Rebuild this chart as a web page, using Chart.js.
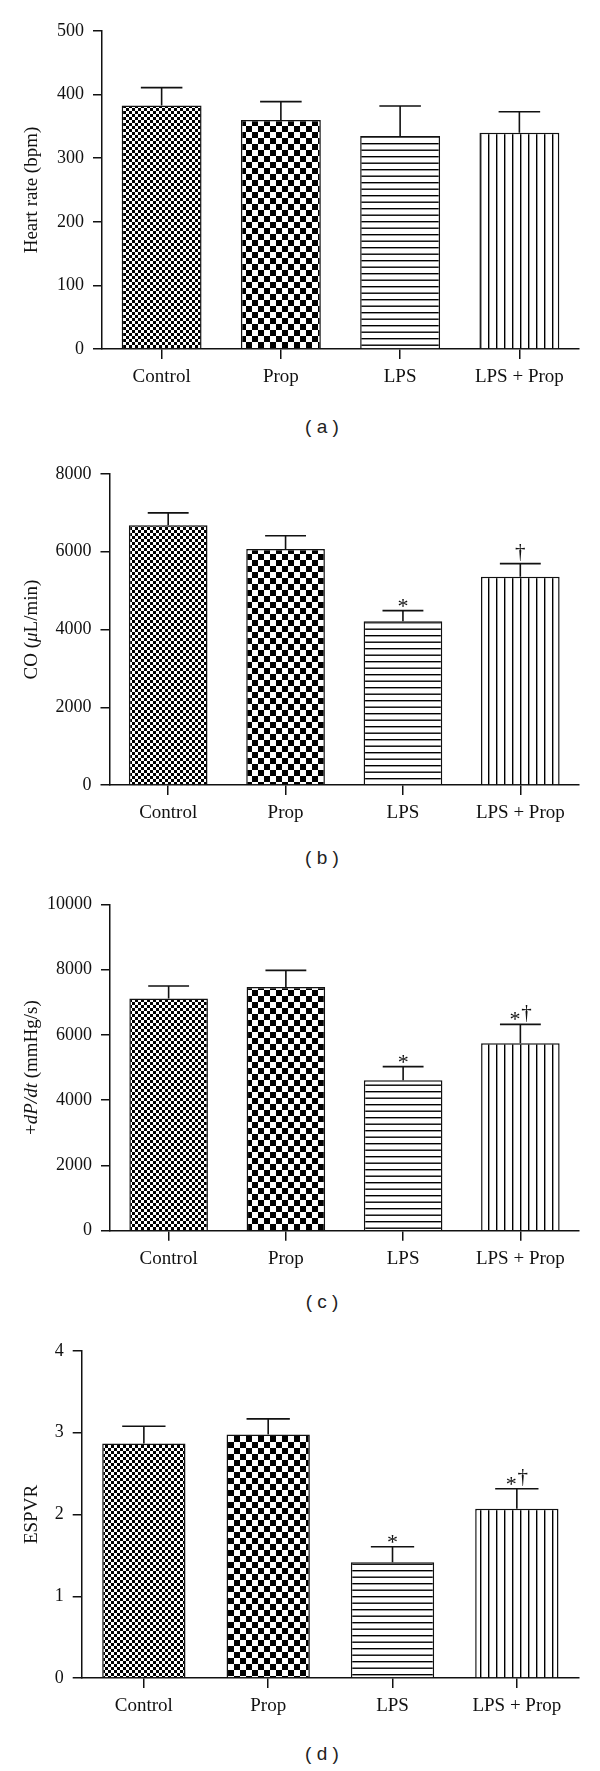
<!DOCTYPE html>
<html>
<head>
<meta charset="utf-8">
<script src="https://cdn.jsdelivr.net/npm/chart.js@4.4.1/dist/chart.umd.min.js"></script>
<style>
  body { margin: 0; background: #fff; }
  #page { position: relative; width: 600px; height: 1771px; overflow: hidden; }
  canvas { position: absolute; left: 0; }
  .cap { position: absolute; left: 0; width: 644px; text-align: center; font: 19px "Liberation Sans", Arial, sans-serif; color: #222; line-height: 24px; }
</style>
</head>
<body>
<div id="page">
  <canvas id="chartA" width="600" height="400" style="top:0px"></canvas>
  <div class="cap" style="top:415px">( a )</div>
  <canvas id="chartB" width="600" height="400" style="top:440px"></canvas>
  <div class="cap" style="top:846px">( b )</div>
  <canvas id="chartC" width="600" height="410" style="top:870px"></canvas>
  <div class="cap" style="top:1290px">( c )</div>
  <canvas id="chartD" width="600" height="420" style="top:1310px"></canvas>
  <div class="cap" style="top:1742px">( d )</div>
</div>
<script>
const groups = ["Control", "Prop", "LPS", "LPS + Prop"];

const heartRate = [383, 360, 335, 340];
const heartRateErr = [28, 29, 47, 33];
const heartRateMarks = ["", "", "", ""];

const cardiacOutput = [6680, 6070, 4210, 5360];
const cardiacOutputErr = [320, 340, 275, 335];
const cardiacOutputMarks = ["", "", "*", "†"];

const dpdt = [7120, 7470, 4610, 5745];
const dpdtErr = [380, 510, 420, 580];
const dpdtMarks = ["", "", "*", "*†"];

const espvr = [2.87, 2.98, 1.415, 2.07];
const espvrErr = [0.21, 0.19, 0.19, 0.245];
const espvrMarks = ["", "", "*", "*†"];

const INK = "#111";
const SERIF = "'Liberation Serif', 'Times New Roman', serif";

// hatch / checker fills
function makePattern(w, h, draw) {
    const c = document.createElement("canvas");
    c.width = w;
    c.height = h;
    const g = c.getContext("2d");
    g.fillStyle = "#fff";
    g.fillRect(0, 0, w, h);
    g.fillStyle = "#000";
    draw(g);
    return g.createPattern(c, "repeat");
}
const fineChecker = makePattern(6, 6, g => { g.fillRect(0, 0, 3, 3); g.fillRect(3, 3, 3, 3); });
const bigChecker = makePattern(12, 12, g => { g.fillRect(0, 0, 6, 6); g.fillRect(6, 6, 6, 6); });
const hLines = makePattern(8, 13, g => { g.fillRect(0, 0, 8, 1.4); g.fillRect(0, 6.5, 8, 1.4); });
const vLines = makePattern(8, 8, g => { g.fillRect(0, 0, 1.4, 8); });
const fills = [fineChecker, bigChecker, hLines, vLines];

function errorBars(values, errors, marks) {
    return {
        id: "errorBars",
        afterDatasetsDraw(chart) {
            const ctx = chart.ctx;
            const y = chart.scales.y;
            const bars = chart.getDatasetMeta(0).data;
            ctx.save();
            ctx.strokeStyle = INK;
            ctx.lineWidth = 1.6;
            bars.forEach((bar, i) => {
                const top = y.getPixelForValue(values[i] + errors[i]);
                const half = bar.width * 0.26;
                ctx.beginPath();
                ctx.moveTo(bar.x, bar.y);
                ctx.lineTo(bar.x, top);
                ctx.moveTo(bar.x - half, top);
                ctx.lineTo(bar.x + half, top);
                ctx.stroke();

                // significance marks: * and dagger
                const chars = Array.from(marks[i] || "");
                ctx.fillStyle = INK;
                ctx.textAlign = "center";
                ctx.textBaseline = "alphabetic";
                chars.forEach((ch, k) => {
                    const size = ch === "*" ? 22 : 21;
                    ctx.font = size + "px " + SERIF;
                    const m = ctx.measureText(ch);
                    const off = chars.length > 1 ? (k === 0 ? -5.5 : 6) : 0;
                    const gap = ch === "*" ? 4 : 2.5;
                    ctx.fillText(ch, bar.x + off, top - gap - m.actualBoundingBoxDescent);
                });
            });
            ctx.restore();
        }
    };
}

function yTitle(parts) {
    return {
        id: "yTitle",
        afterDraw(chart) {
            const ctx = chart.ctx;
            const area = chart.chartArea;
            ctx.save();
            ctx.translate(31, (area.top + area.bottom) / 2);
            ctx.rotate(-Math.PI / 2);
            ctx.fillStyle = INK;
            ctx.textBaseline = "middle";
            ctx.textAlign = "left";
            let total = 0;
            parts.forEach(p => {
                ctx.font = (p[1] ? "italic " : "") + "19px " + SERIF;
                total += ctx.measureText(p[0]).width;
            });
            let x = -total / 2;
            parts.forEach(p => {
                ctx.font = (p[1] ? "italic " : "") + "19px " + SERIF;
                ctx.fillText(p[0], x, 1);
                x += ctx.measureText(p[0]).width;
            });
            ctx.restore();
        }
    };
}

function drawPanel(id, p) {
    const chartEl = document.getElementById(id);
    const ctx = chartEl.getContext("2d");
    return new Chart(ctx, {
        type: "bar",
        data: {
            labels: groups,
            datasets: [
                {
                    data: p.values,
                    backgroundColor: fills,
                    borderColor: INK,
                    borderWidth: 1.5,
                    barPercentage: 0.67,
                    categoryPercentage: 1,
                },
            ],
        },
        options: {
            responsive: false,
            animation: false,
            layout: { padding: { top: p.padTop, right: 21, left: 0, bottom: 0 } },
            plugins: {
                legend: { display: false },
                tooltip: { enabled: false },
            },
            scales: {
                x: {
                    grid: { offset: false, drawOnChartArea: false, color: INK, lineWidth: 1.5, tickLength: 10 },
                    border: { color: INK, width: 1.5 },
                    ticks: { color: INK, font: { family: SERIF, size: 19 }, padding: 7 },
                    afterFit: s => { s.height = p.xHeight; },
                },
                y: {
                    min: 0,
                    max: p.max,
                    grid: { drawOnChartArea: false, color: INK, lineWidth: 1.5, tickLength: 9 },
                    border: { color: INK, width: 1.5 },
                    ticks: {
                        stepSize: p.step,
                        color: INK,
                        font: { family: SERIF, size: 18 },
                        padding: 9,
                        callback: v => String(v),
                    },
                    afterFit: s => { s.width = p.axisX; },
                },
            },
        },
        plugins: [errorBars(p.values, p.errors, p.marks), yTitle(p.title)],
    });
}

drawPanel("chartA", {
    values: heartRate, errors: heartRateErr, marks: heartRateMarks,
    max: 500, step: 100, padTop: 31, xHeight: 51, axisX: 102,
    title: [["Heart rate (bpm)", false]],
});
drawPanel("chartB", {
    values: cardiacOutput, errors: cardiacOutputErr, marks: cardiacOutputMarks,
    max: 8000, step: 2000, padTop: 34, xHeight: 55, axisX: 109.5,
    title: [["CO (", false], ["\u03bc", true], ["L/min)", false]],
});
drawPanel("chartC", {
    values: dpdt, errors: dpdtErr, marks: dpdtMarks,
    max: 10000, step: 2000, padTop: 34.5, xHeight: 49.3, axisX: 110,
    title: [["+", false], ["dP/dt", true], [" (mmHg/s)", false]],
});
drawPanel("chartD", {
    values: espvr, errors: espvrErr, marks: espvrMarks,
    max: 4, step: 1, padTop: 41, xHeight: 52, axisX: 81.7,
    title: [["ESPVR", false]],
});
</script>
</body>
</html>
